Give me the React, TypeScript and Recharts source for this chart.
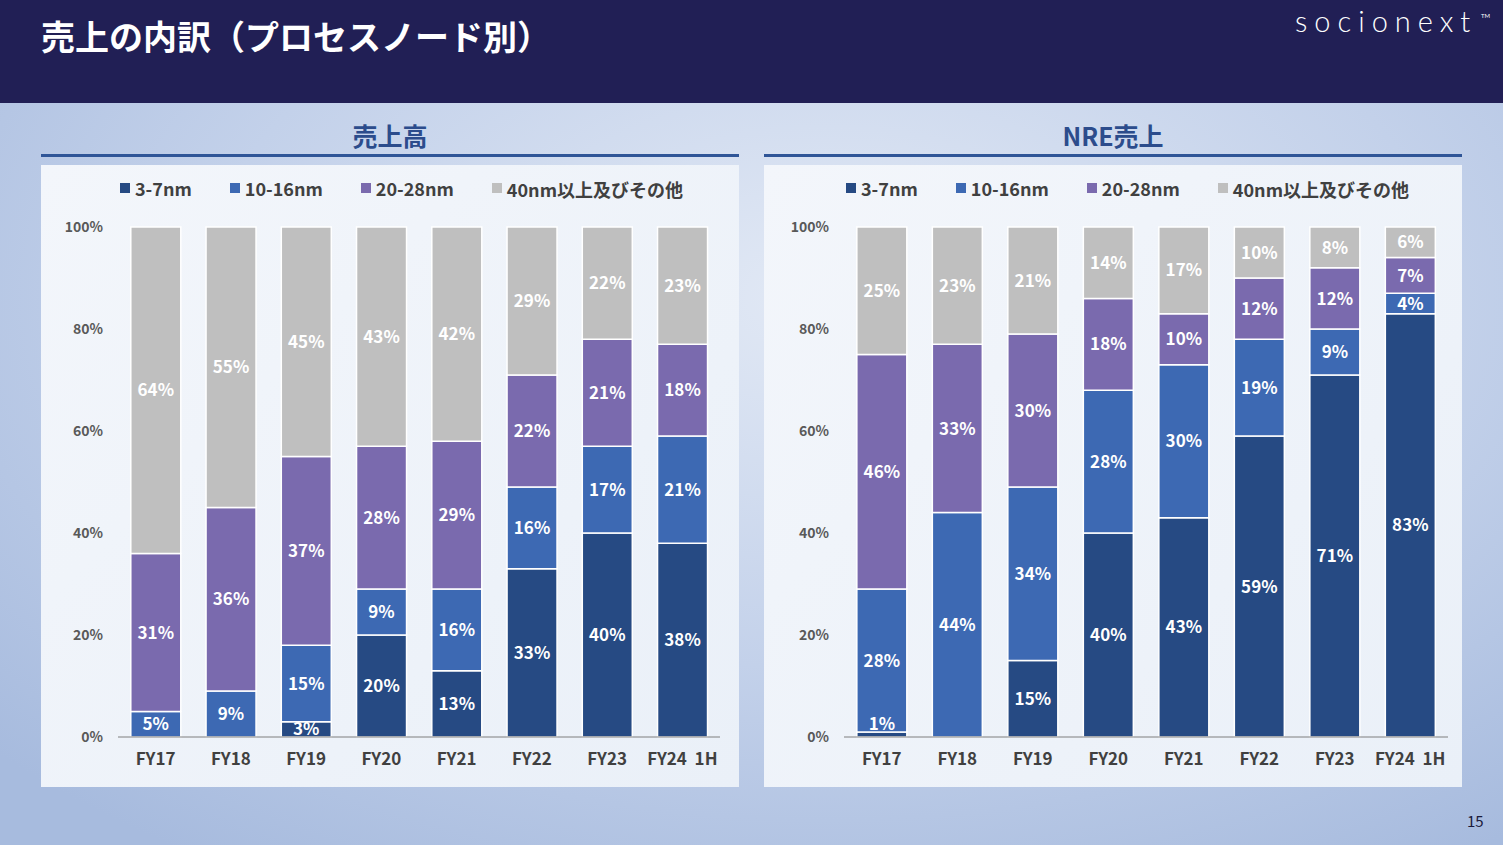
import { BarChart, Bar, XAxis, YAxis, LabelList } from 'recharts'

const CATEGORIES = ['FY17', 'FY18', 'FY19', 'FY20', 'FY21', 'FY22', 'FY23', 'FY24\u00a0\u00a01H']
const SERIES = ['3-7nm', '10-16nm', '20-28nm', '40nm以上及びその他']
const COLORS = ['#264a83', '#3d69b3', '#7a6aae', '#bfbfbf']
const Y_TICKS = [0, 20, 40, 60, 80, 100]

// 売上高
const SALES_3_7 = [0, 0, 3, 20, 13, 33, 40, 38]
const SALES_10_16 = [5, 9, 15, 9, 16, 16, 17, 21]
const SALES_20_28 = [31, 36, 37, 28, 29, 22, 21, 18]
const SALES_40 = [64, 55, 45, 43, 42, 29, 22, 23]

// NRE売上
const NRE_3_7 = [1, 0, 15, 40, 43, 59, 71, 83]
const NRE_10_16 = [28, 44, 34, 28, 30, 19, 9, 4]
const NRE_20_28 = [46, 33, 30, 18, 10, 12, 12, 7]
const NRE_40 = [25, 23, 21, 14, 17, 10, 8, 6]

const FONT = '"Noto Sans CJK JP", "Noto Sans", sans-serif'
const KEYS = ['a', 'b', 'c', 'd']

function buildRows(cols: number[][]) {
  return CATEGORIES.map((name, i) => ({
    name,
    a: cols[0][i],
    b: cols[1][i],
    c: cols[2][i],
    d: cols[3][i],
  }))
}

const salesRows = buildRows([SALES_3_7, SALES_10_16, SALES_20_28, SALES_40])
const nreRows = buildRows([NRE_3_7, NRE_10_16, NRE_20_28, NRE_40])

function SegLabel(props: any) {
  const { x, y, width, height, value } = props
  if (!value) return null
  const cy = height < 10 ? y - 8 : y + height / 2
  return (
    <text x={x + width / 2} y={cy} dy="0.36em" textAnchor="middle" fill="#fff"
      style={{ fontFamily: FONT, fontWeight: 700, fontSize: 17 }}>
      {value}%
    </text>
  )
}

function LegendRow({ shift }: { shift: number }) {
  return (
    <div style={{ position: 'absolute', left: 79 + shift, top: 8, display: 'flex', gap: 38, fontFamily: FONT, fontWeight: 700, fontSize: 18, color: '#404040', zIndex: 1 }}>
      {SERIES.map((s, i) => (
        <div key={s} style={{ display: 'flex', alignItems: 'center' }}>
          <span style={{ display: 'inline-block', width: 10, height: 10, background: COLORS[i], marginRight: 5 }} />
          <span style={{ marginTop: i === 3 ? 3 : 0 }}>{s}</span>
        </div>
      ))}
    </div>
  )
}

function Panel({ left, title, rows, shift }: { left: number; title: string; rows: any[]; shift: number }) {
  return (
    <>
      <div style={{ position: 'absolute', left, top: 117, width: 698, textAlign: 'center', fontFamily: FONT, fontWeight: 700, fontSize: 25, color: '#2c4c8c' }}>
        {title}
      </div>
      <div style={{ position: 'absolute', left, top: 154, width: 698, height: 3, background: '#2f5597' }} />
      <div style={{ position: 'absolute', left, top: 165, width: 698, height: 622, background: 'linear-gradient(135deg, #f3f6fb 0%, #eaf0f8 100%)' }}>
        <LegendRow shift={shift} />
        <BarChart width={698} height={622} data={rows} margin={{ top: 62, right: 19 - shift - (shift ? 2 : 0), bottom: 20, left: shift }} barCategoryGap="17%">
          <XAxis dataKey="name" tickLine={false} axisLine={{ stroke: '#7f7f7f' }} tickMargin={10}
            tick={{ fill: '#404040', fontFamily: FONT, fontWeight: 700, fontSize: 17 }} interval={0} />
          <YAxis width={77} domain={[0, 100]} ticks={Y_TICKS} tickLine={false} axisLine={false} tickMargin={9}
            tickFormatter={(v) => `${v}%`}
            tick={{ fill: '#595959', fontFamily: FONT, fontWeight: 700, fontSize: 14 }} />
          {KEYS.map((k, i) => (
            <Bar key={k} dataKey={k} stackId="s" fill={COLORS[i]} stroke="#ffffff" strokeWidth={1.5} isAnimationActive={false}>
              <LabelList dataKey={k} content={SegLabel} />
            </Bar>
          ))}
        </BarChart>
      </div>
    </>
  )
}

export default function App() {
  return (
    <div style={{ position: 'absolute', left: 0, top: 0, width: 1503, height: 845, overflow: 'hidden',
      background: 'radial-gradient(ellipse 75% 80% at 55% 35%, #e2e9f5 0%, #c3d1ea 55%, #a7bbde 100%)' }}>
      <div style={{ position: 'absolute', left: 0, top: 0, width: 1503, height: 103, background: '#211f55' }} />
      <div style={{ position: 'absolute', left: 41, top: 11, fontFamily: FONT, fontWeight: 700, fontSize: 34, color: '#ffffff' }}>
        売上の内訳（プロセスノード別）
      </div>
      <div style={{ position: 'absolute', left: 1295, top: 3, fontFamily: 'Lato, sans-serif', fontWeight: 300, fontSize: 29, letterSpacing: 7, color: '#ffffff' }}>
        socionext
      </div>
      <div style={{ position: 'absolute', left: 1481, top: 12, fontFamily: 'Lato, sans-serif', fontSize: 6, color: '#ffffff' }}>TM</div>
      <Panel left={41} title="売上高" rows={salesRows} shift={0} />
      <Panel left={764} title="NRE売上" rows={nreRows} shift={3} />
      <div style={{ position: 'absolute', left: 1467, top: 810, fontFamily: FONT, fontSize: 15, color: '#1a1a3a' }}>15</div>
    </div>
  )
}
